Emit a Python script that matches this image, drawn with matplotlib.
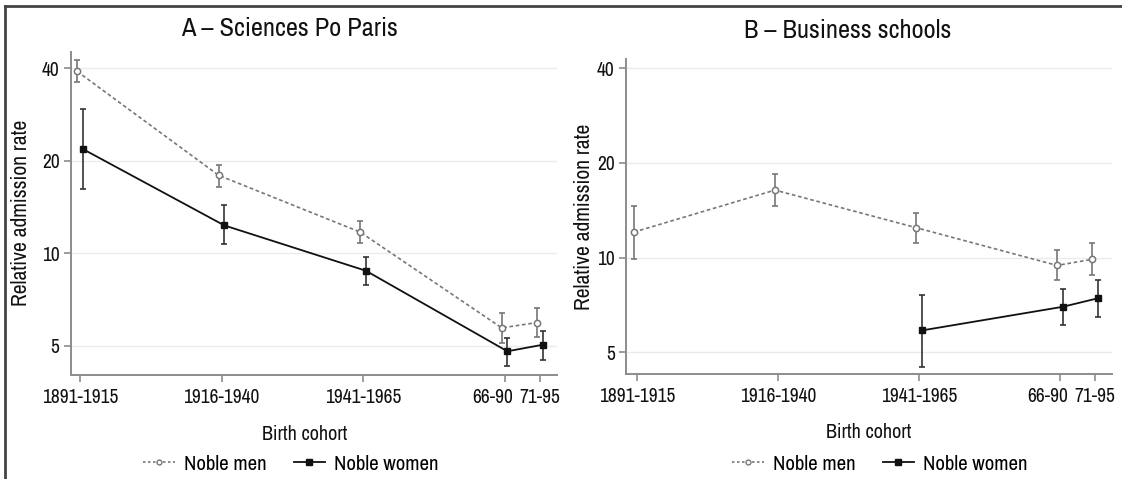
import matplotlib
matplotlib.use('Agg')
import matplotlib.pyplot as plt
from matplotlib.lines import Line2D
from matplotlib.ticker import FixedLocator, NullLocator
from matplotlib.transforms import ScaledTranslation

plt.rcParams['font.family'] = ['Archivo Narrow', 'Liberation Sans', 'DejaVu Sans']

# Cohort tick positions and labels (shared by both panels)
cohort_pos = [0, 1, 2, 3, 3.25]
cohort_labels = ['1891-1915', '1916-1940', '1941-1965', '66-90', '71-95']

# Panel A - Sciences Po Paris
a_men = [39.0, 17.9, 11.7, 5.71, 5.94]
a_men_lo = [36.1, 16.4, 10.75, 5.11, 5.34]
a_men_hi = [42.4, 19.3, 12.7, 6.36, 6.65]
a_women = [21.8, 12.3, 8.76, 4.79, 5.03]
a_women_lo = [16.1, 10.7, 7.9, 4.3, 4.5]
a_women_hi = [29.5, 14.3, 9.7, 5.3, 5.56]

# Panel B - Business schools (no women data for the two first cohorts)
b_men = [12.06, 16.4, 12.46, 9.45, 9.88]
b_men_lo = [9.93, 14.6, 11.15, 8.47, 8.78]
b_men_hi = [14.6, 18.4, 13.9, 10.6, 11.15]
b_women_pos = [2, 3, 3.25]
b_women = [5.87, 6.98, 7.43]
b_women_lo = [4.5, 6.12, 6.5]
b_women_hi = [7.63, 7.98, 8.5]

men_col = '#777777'
women_col = '#111111'
spine_col = '#8c8c8c'
dodge = 0.02

fig = plt.figure(figsize=(11.22, 4.79), dpi=100)
axA = fig.add_axes([0.063, 0.2171, 0.4332, 0.6749])
axB = fig.add_axes([0.5577, 0.2186, 0.4334, 0.6582])


def draw(ax, men, mlo, mhi, wpos, women, wlo, whi, xlim, ylim):
    mx = [p - dodge for p in cohort_pos]
    wx = [p + dodge for p in wpos]
    merr = [[m - l for m, l in zip(men, mlo)], [h - m for m, h in zip(men, mhi)]]
    werr = [[w - l for w, l in zip(women, wlo)], [h - w for w, h in zip(women, whi)]]
    ax.errorbar(mx, men, yerr=merr, fmt='none', ecolor=men_col, elinewidth=1.2,
                capsize=2.2, capthick=1.2, zorder=3)
    ax.plot(mx, men, color=men_col, linestyle=(0, (2.2, 1.6)), linewidth=1.2,
            marker='o', markersize=4.5, markerfacecolor='white',
            markeredgecolor=men_col, markeredgewidth=1.1, zorder=4)
    ax.errorbar(wx, women, yerr=werr, fmt='none', ecolor='#333333', elinewidth=1.2,
                capsize=2.2, capthick=1.2, zorder=3)
    ax.plot(wx, women, color=women_col, linestyle='-', linewidth=1.3,
            marker='s', markersize=5, markerfacecolor=women_col,
            markeredgecolor=women_col, zorder=4)

    ax.set_yscale('log')
    ax.set_ylim(*ylim)
    ax.set_xlim(*xlim)
    ax.yaxis.set_major_locator(FixedLocator([5, 10, 20, 40]))
    ax.yaxis.set_minor_locator(NullLocator())
    ax.set_yticklabels(['5', '10', '20', '40'])
    ax.set_xticks(cohort_pos)
    ax.set_xticklabels(cohort_labels)
    ax.grid(True, axis='y', color='#ebebeb', linewidth=1.0, zorder=0)
    ax.set_axisbelow(True)
    for s in ['top', 'right']:
        ax.spines[s].set_visible(False)
    for s in ['left', 'bottom']:
        ax.spines[s].set_color(spine_col)
        ax.spines[s].set_linewidth(1.4)
    ax.tick_params(axis='both', colors=spine_col, labelcolor='#111111',
                   length=5, width=1.2)
    ax.tick_params(axis='y', pad=3, labelsize=14)
    ax.tick_params(axis='x', pad=4, labelsize=14)
    # the "66-90" label sits a little left of its tick so it clears "71-95"
    lab = ax.get_xticklabels()[3]
    lab.set_transform(lab.get_transform() + ScaledTranslation(-0.12, 0, fig.dpi_scale_trans))
    ax.set_ylabel('Relative admission rate', fontsize=15.5, color='#111111')
    ax.set_xlabel('Birth cohort', fontsize=14.5, color='#111111')


draw(axA, a_men, a_men_lo, a_men_hi, cohort_pos, a_women, a_women_lo, a_women_hi,
     (-0.066, 3.369), (4.01, 45.2))
draw(axB, b_men, b_men_lo, b_men_hi, b_women_pos, b_women, b_women_lo, b_women_hi,
     (-0.078, 3.37), (4.26, 42.8))

axA.yaxis.set_label_coords(-0.082, 0.5)
axB.yaxis.set_label_coords(-0.066, 0.5)
axA.xaxis.set_label_coords(0.482, -0.155)
axB.xaxis.set_label_coords(0.5, -0.155)

# Panel titles
fig.text(289 / 1122, 1 - 29 / 479, 'A \u2013 Sciences Po Paris', ha='center', va='center',
         fontsize=19, color='#111111')
fig.text(848 / 1122, 1 - 30 / 479, 'B \u2013 Business schools', ha='center', va='center',
         fontsize=19, color='#111111')

# Legends below each panel
handles = [
    Line2D([], [], color=men_col, linestyle=(0, (1.5, 1.5)), linewidth=1.2, marker='o',
           markersize=3.5, markerfacecolor='white', markeredgecolor=men_col),
    Line2D([], [], color=women_col, linestyle='-', linewidth=1.3, marker='s',
           markersize=4, markerfacecolor=women_col),
]
for cx in (291, 880):
    fig.legend(handles, ['Noble men', 'Noble women'], loc='center',
               bbox_to_anchor=(cx / 1122, 1 - 464 / 479), ncol=2, frameon=False,
               fontsize=15, handlelength=1.5, handletextpad=0.45, columnspacing=1.3)

# Outer frame (left and top edges visible)
fig.add_artist(Line2D([5 / 1122, 5 / 1122], [0, 1 - 6 / 479], transform=fig.transFigure,
                      color='#444444', linewidth=2))
fig.add_artist(Line2D([5 / 1122, 1], [1 - 6 / 479, 1 - 6 / 479], transform=fig.transFigure,
                      color='#444444', linewidth=2))

fig.savefig('out.png', dpi=100)
